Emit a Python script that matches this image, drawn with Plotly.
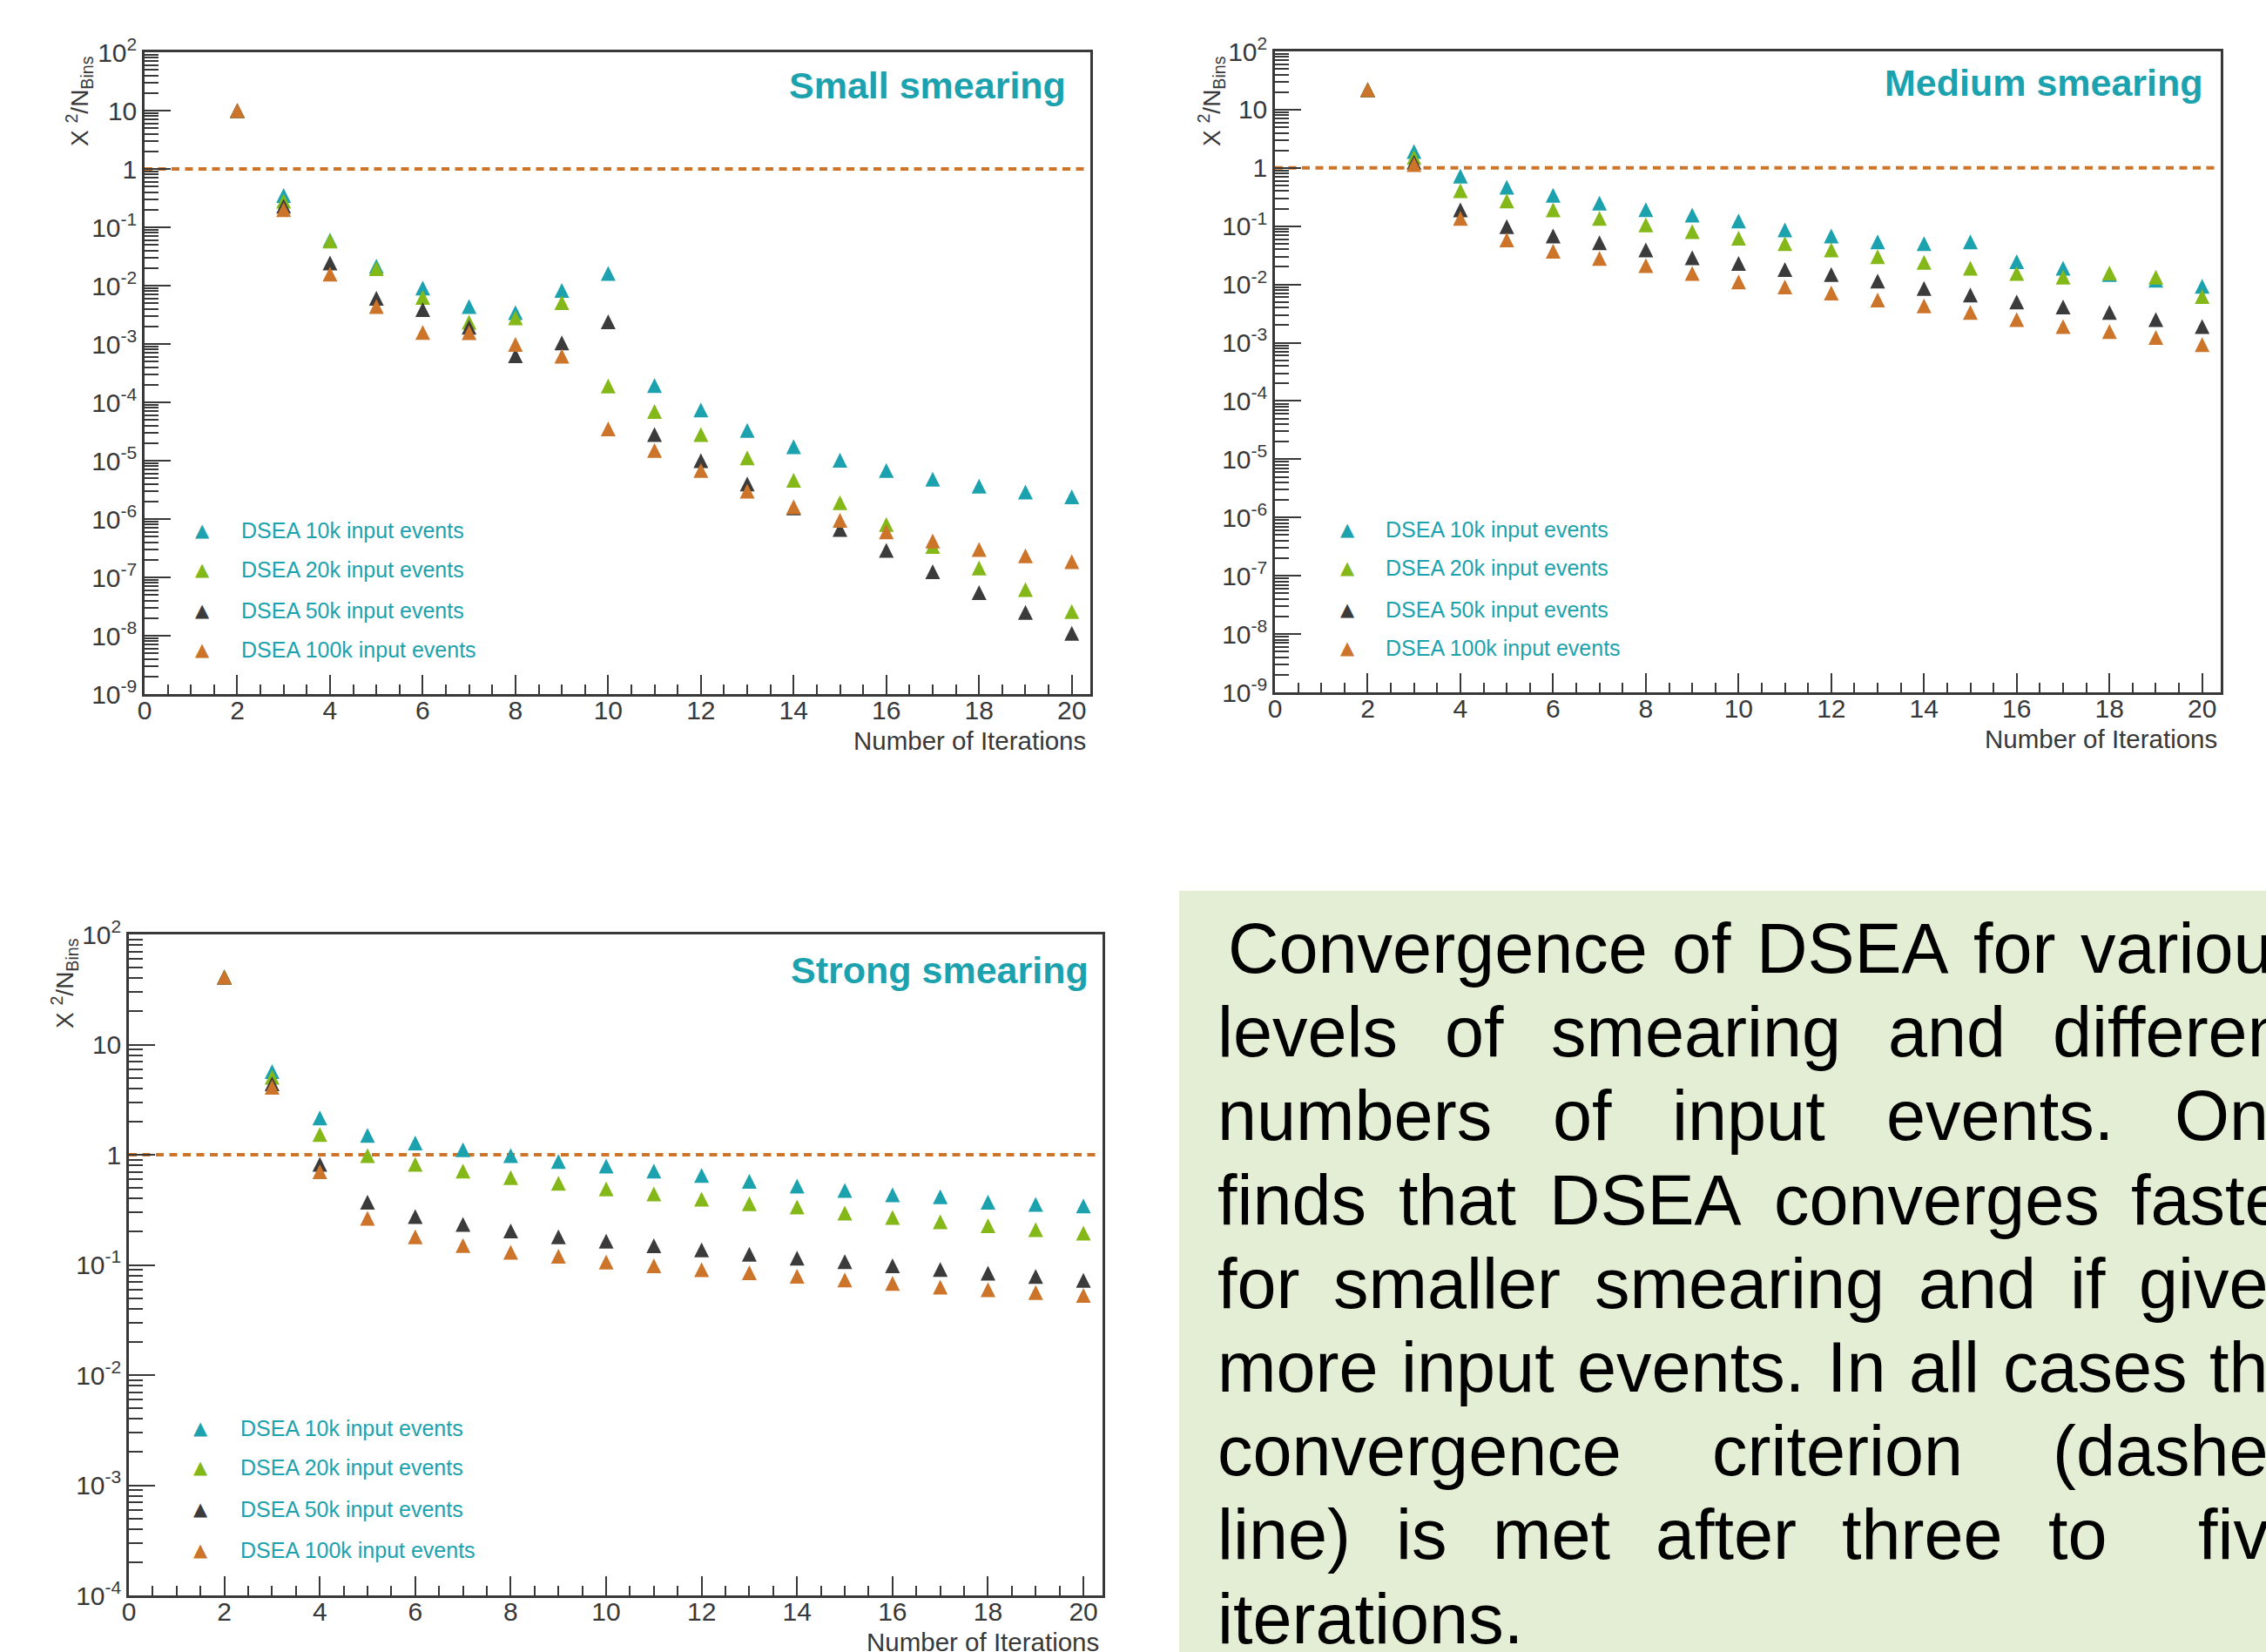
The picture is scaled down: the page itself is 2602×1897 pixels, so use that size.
import plotly.graph_objects as go

W, H = 2602, 1897
FONT = "Liberation Sans, Arial, Helvetica, sans-serif"
INK = "#383838"
TEAL = "#1ca2ae"

# ---------------------------------------------------------------- data
iterations = list(range(2, 21))
x_tick_values = list(range(0, 21, 2))

series_labels = ["DSEA 10k input events", "DSEA 20k input events",
                 "DSEA 50k input events", "DSEA 100k input events"]
series_colors = ["#1ca2ae", "#84b819", "#3b3b3b", "#cc7429"]

criterion = 1.0  # chi2/Nbins convergence threshold

small_10k = [10, 0.35, 0.06, 0.0215, 0.0091, 0.0044, 0.00344, 0.0083, 0.0162, 1.94e-4,
             7.4e-5, 3.3e-5, 1.74e-5, 1.02e-5, 6.8e-6, 4.8e-6, 3.65e-6, 2.9e-6, 2.4e-6]
small_20k = [10, 0.28, 0.058, 0.0195, 0.0063, 0.00236, 0.0028, 0.0051, 1.9e-4, 7.0e-5,
             2.8e-5, 1.12e-5, 4.6e-6, 1.9e-6, 8.1e-7, 3.4e-7, 1.45e-7, 6.2e-8, 2.6e-8]
small_50k = [10, 0.23, 0.0244, 0.0061, 0.0039, 0.00194, 0.00063, 0.00104, 0.0024, 2.8e-5,
             1.0e-5, 4.0e-6, 1.55e-6, 6.6e-7, 2.9e-7, 1.25e-7, 5.5e-8, 2.5e-8, 1.1e-8]
small_100k = [10, 0.2, 0.0158, 0.0044, 0.00158, 0.00156, 0.00098, 0.00062, 3.5e-5, 1.5e-5,
              6.8e-6, 3.0e-6, 1.62e-6, 9.5e-7, 6.0e-7, 4.2e-7, 3.0e-7, 2.35e-7, 1.86e-7]

medium_10k = [22, 1.91, 0.72, 0.466, 0.34, 0.248, 0.192, 0.155, 0.123, 0.0862,
              0.0678, 0.054, 0.050, 0.054, 0.0245, 0.019, 0.0148, 0.0118, 0.0093]
medium_20k = [22, 1.52, 0.405, 0.27, 0.19, 0.136, 0.105, 0.0805, 0.062, 0.05,
              0.039, 0.030, 0.024, 0.019, 0.0155, 0.0134, 0.0157, 0.0134, 0.0062]
medium_50k = [22, 1.25, 0.19, 0.098, 0.068, 0.052, 0.039, 0.0288, 0.023, 0.018,
              0.0148, 0.0114, 0.0085, 0.0066, 0.005, 0.0041, 0.0033, 0.0025, 0.0019]
medium_100k = [22, 1.14, 0.136, 0.058, 0.037, 0.0279, 0.021, 0.0155, 0.011, 0.0091,
               0.0071, 0.0054, 0.0043, 0.0033, 0.0025, 0.0019, 0.00155, 0.00123, 0.00093]

strong_10k = [41, 5.7, 2.16, 1.50, 1.28, 1.11, 0.98, 0.87, 0.79, 0.71,
              0.65, 0.573, 0.52, 0.474, 0.433, 0.415, 0.37, 0.355, 0.344]
strong_20k = [41, 5.06, 1.53, 0.98, 0.82, 0.71, 0.62, 0.55, 0.49, 0.44,
              0.395, 0.36, 0.336, 0.295, 0.27, 0.246, 0.227, 0.209, 0.194]
strong_50k = [41, 4.4, 0.82, 0.37, 0.275, 0.233, 0.203, 0.18, 0.164, 0.149,
              0.137, 0.125, 0.115, 0.107, 0.098, 0.091, 0.084, 0.0786, 0.0724]
strong_100k = [41, 4.1, 0.70, 0.265, 0.18, 0.15, 0.13, 0.12, 0.106, 0.098,
               0.0905, 0.085, 0.079, 0.073, 0.068, 0.063, 0.0596, 0.056, 0.053]

caption_lines = [
    "Convergence of DSEA for various",
    "levels of smearing and different",
    "numbers of input events. One",
    "finds that DSEA converges faster",
    "for smaller smearing and if given",
    "more input events. In all cases the",
    "convergence criterion (dashed",
    "line) is met after three to  five",
    "iterations.",
]


# ---------------------------------------------------------------- helpers
def px(x):
    return x / W


def py(y):
    return 1 - y / H


def decade_label(d):
    if d == 0:
        return "1"
    if d == 1:
        return "10"
    return "10<sup>%d</sup>" % d


# panel frames in pixels: left, top, right, bottom
panels = [
    dict(name="Small smearing", series=[small_10k, small_20k, small_50k, small_100k],
         decades=(-9, 2), frame=(166, 60, 1252, 797),
         title_xy=(1226, 98), xtitle_xy=(1249, 851), ytitle_xy=(91, 62),
         legend_marker_x=232, legend_text_x=275, legend_rows=[609, 654, 701, 746]),
    dict(name="Medium smearing", series=[medium_10k, medium_20k, medium_50k, medium_100k],
         decades=(-9, 2), frame=(1464, 59, 2550, 795),
         title_xy=(2532, 95), xtitle_xy=(2548, 848), ytitle_xy=(1391, 62),
         legend_marker_x=1547, legend_text_x=1589, legend_rows=[608, 652, 700, 744]),
    dict(name="Strong smearing", series=[strong_10k, strong_20k, strong_50k, strong_100k],
         decades=(-4, 2), frame=(148, 1073, 1266, 1832),
         title_xy=(1252, 1114), xtitle_xy=(1264, 1885), ytitle_xy=(74, 1075),
         legend_marker_x=230, legend_text_x=274, legend_rows=[1640, 1685, 1733, 1780]),
]

fig = go.Figure()
layout = dict(
    template="none",
    width=W, height=H, margin=dict(l=0, r=0, t=0, b=0, pad=0, autoexpand=False),
    paper_bgcolor="white", plot_bgcolor="white", showlegend=False,
    font=dict(family=FONT, color=INK),
)
annotations = []
shapes = []

# caption panel background
shapes.append(dict(type="rect", xref="paper", yref="paper", x0=px(1354), x1=1.0,
                   y0=0.0, y1=py(1023), fillcolor="#e4eed4", line=dict(width=0),
                   layer="below"))

MARKER = 17
for i, p in enumerate(panels, start=1):
    xa = "xaxis" if i == 1 else "xaxis%d" % i
    ya = "yaxis" if i == 1 else "yaxis%d" % i
    xr = "x" if i == 1 else "x%d" % i
    yr = "y" if i == 1 else "y%d" % i
    left, top, right, bottom = p["frame"]
    lo, hi = p["decades"]
    decades = list(range(lo, hi + 1))

    layout[xa] = dict(
        domain=[px(left), px(right)], anchor=yr, range=[0, 20.4], automargin=False,
        showgrid=False, zeroline=False, showline=True, mirror=True,
        linecolor=INK, linewidth=2.5,
        tickmode="array", tickvals=x_tick_values,
        ticks="inside", ticklen=22, tickwidth=2, tickcolor=INK,
        ticklabelstandoff=-10,
        minor=dict(tickmode="array", tickvals=[k * 0.5 for k in range(41) if k % 4],
                   ticks="inside", ticklen=11, tickwidth=2, tickcolor=INK,
                   showgrid=False),
        tickfont=dict(family=FONT, size=30, color=INK),
    )
    layout[ya] = dict(
        type="log", domain=[py(bottom), py(top)], anchor=xr, range=[lo, hi],
        automargin=False,
        showgrid=False, zeroline=False, showline=True, mirror=True,
        linecolor=INK, linewidth=2.5,
        tickmode="array", tickvals=[10.0 ** d for d in decades],
        ticktext=[decade_label(d) for d in decades],
        ticks="inside", ticklen=30, tickwidth=2, tickcolor=INK,
        minor=dict(tickmode="array",
                   tickvals=[k * 10.0 ** d for d in decades[:-1] for k in range(2, 10)],
                   ticks="inside", ticklen=16, tickwidth=2, tickcolor=INK,
                   showgrid=False),
        tickfont=dict(family=FONT, size=30, color=INK),
    )

    # convergence criterion
    shapes.append(dict(type="line", xref="%s domain" % xr, yref=yr, x0=0, x1=0.995,
                       y0=criterion, y1=criterion, layer="below",
                       line=dict(color="#cc7429", width=4, dash="9px,6.5px")))

    for values, label, color in zip(p["series"], series_labels, series_colors):
        fig.add_trace(go.Scatter(
            x=iterations, y=values, mode="markers", name=label,
            xaxis=xr, yaxis=yr, cliponaxis=False,
            marker=dict(symbol="arrow-down", angle=180, standoff=MARKER / 2,
                        size=MARKER, color=color, line=dict(width=0)),
        ))

    # legend entries
    for row_y, label, color in zip(p["legend_rows"], series_labels, series_colors):
        annotations.append(dict(
            xref="paper", yref="paper", x=px(p["legend_marker_x"]), y=py(row_y),
            xanchor="center", yanchor="middle", showarrow=False, text="▲",
            font=dict(family="DejaVu Sans", size=21, color=color)))
        annotations.append(dict(
            xref="paper", yref="paper", x=px(p["legend_text_x"]), y=py(row_y),
            xanchor="left", yanchor="middle", showarrow=False, text=label,
            font=dict(family=FONT, size=25, color=TEAL)))

    tx, ty = p["title_xy"]
    annotations.append(dict(
        xref="paper", yref="paper", x=px(tx), y=py(ty), xanchor="right",
        yanchor="middle", showarrow=False, text="<b>%s</b>" % p["name"],
        font=dict(family=FONT, size=43, color=TEAL)))

    tx, ty = p["xtitle_xy"]
    annotations.append(dict(
        xref="paper", yref="paper", x=px(tx), y=py(ty), xanchor="right",
        yanchor="middle", showarrow=False, text="Number of Iterations",
        font=dict(family=FONT, size=29.5, color=INK)))

    tx, ty = p["ytitle_xy"]
    annotations.append(dict(
        xref="paper", yref="paper", x=px(tx), y=py(ty), xanchor="center",
        yanchor="top", showarrow=False, textangle=-90,
        text="X <sup>2</sup>/N<sub>Bins</sub>",
        font=dict(family=FONT, size=28, color=INK)))

# ---------------------------------------------------------------- caption
# Helvetica/Arial advance widths (1/1000 em) for justified layout
ADV = dict(zip("abcdefghijklmnopqrstuvwxyz",
               [556, 556, 500, 556, 556, 278, 556, 556, 222, 222, 500, 222, 833,
                556, 556, 556, 556, 333, 500, 278, 556, 500, 722, 500, 500, 500]))
ADV.update({"C": 722, "D": 722, "E": 667, "S": 667, "A": 667, "O": 778, "I": 278,
            ".": 278, "(": 333, ")": 333, " ": 278})

CAP_SIZE = 81
CAP_LEFT, CAP_RIGHT = 1396, 2648
CAP_FIRST_Y, CAP_PITCH = 1089, 96.2


def width(word):
    return sum(ADV.get(c, 556) for c in word) * CAP_SIZE / 1000.0


for n, line in enumerate(caption_lines):
    words = line.split(" ")
    start = CAP_LEFT + (12 if n == 0 else 0)
    if n < len(caption_lines) - 1:
        gap = (CAP_RIGHT - start - sum(width(w) for w in words)) / (len(words) - 1)
    else:
        gap = ADV[" "] * CAP_SIZE / 1000.0
    x = start
    y = CAP_FIRST_Y + n * CAP_PITCH
    for w in words:
        if w:
            annotations.append(dict(
                xref="paper", yref="paper", x=px(x), y=py(y), xanchor="left",
                yanchor="middle", showarrow=False, text=w,
                font=dict(family=FONT, size=CAP_SIZE, color="black")))
        x += width(w) + gap

layout["annotations"] = annotations
layout["shapes"] = shapes
fig.update_layout(**layout)
fig.write_html("out.html")
